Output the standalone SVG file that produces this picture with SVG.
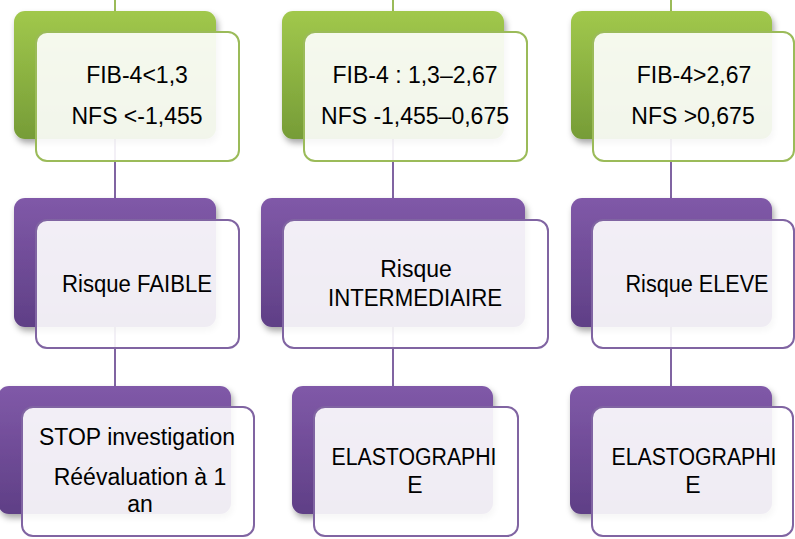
<svg xmlns="http://www.w3.org/2000/svg" width="795" height="539" viewBox="0 0 795 539">
<defs>
<linearGradient id="gG" x1="0" y1="0" x2="0" y2="1"><stop offset="0" stop-color="#A1C84C"/><stop offset="1" stop-color="#769C37"/></linearGradient>
<linearGradient id="gP" x1="0" y1="0" x2="0" y2="1"><stop offset="0" stop-color="#8059A8"/><stop offset="1" stop-color="#5F3F86"/></linearGradient>
<filter id="sh" x="-10%" y="-10%" width="125%" height="130%"><feDropShadow dx="2" dy="4" stdDeviation="3" flood-color="#000" flood-opacity="0.35"/></filter>
</defs>
<style>
.bg{fill:url(#gG);filter:url(#sh)}
.bp{fill:url(#gP);filter:url(#sh)}
.fg{fill:#fff;fill-opacity:0.9;stroke:#9BBB59;stroke-width:2}
.fp{fill:#fff;fill-opacity:0.9;stroke:#8064A2;stroke-width:2}
.cg{stroke:#9BBB59;stroke-width:2;fill:none}
.cp{stroke:#8064A2;stroke-width:2;fill:none}
text{font-family:"Liberation Sans",Arial,sans-serif;font-size:23px;fill:#000;text-anchor:middle}
</style>
<rect width="795" height="539" fill="#fff"/>
<g id="connectors">
<line class="cg" x1="115" y1="0" x2="115" y2="12"/>
<line class="cg" x1="393" y1="0" x2="393" y2="12"/>
<line class="cg" x1="671" y1="0" x2="671" y2="12"/>
<line class="cp" x1="115" y1="139" x2="115" y2="199"/>
<line class="cp" x1="393" y1="139" x2="393" y2="199"/>
<line class="cp" x1="671" y1="139" x2="671" y2="199"/>
<line class="cp" x1="115" y1="327" x2="115" y2="387"/>
<line class="cp" x1="393" y1="327" x2="393" y2="387"/>
<line class="cp" x1="671" y1="327" x2="671" y2="387"/>
</g>
<g id="n1">
<rect class="bg" x="14" y="11" width="202" height="128" rx="11"/>
<rect class="fg" x="36" y="32" width="203" height="129" rx="11"/>
<text x="137" y="83">FIB-4&lt;1,3</text>
<text x="137" y="124">NFS &lt;-1,455</text>
</g>
<g id="n2">
<rect class="bg" x="282" y="11" width="222" height="128" rx="11"/>
<rect class="fg" x="304" y="32" width="223" height="129" rx="11"/>
<text x="415" y="83">FIB-4 : 1,3–2,67</text>
<text x="415" y="124">NFS -1,455–0,675</text>
</g>
<g id="n3">
<rect class="bg" x="571" y="11" width="201" height="128" rx="11"/>
<rect class="fg" x="593" y="32" width="201" height="129" rx="11"/>
<text x="694" y="83">FIB-4&gt;2,67</text>
<text x="693" y="124">NFS &gt;0,675</text>
</g>
<g id="n4">
<rect class="bp" x="14" y="198" width="202" height="129" rx="11"/>
<rect class="fp" x="36" y="220" width="203" height="128" rx="11"/>
<text x="137" y="292" textLength="150" lengthAdjust="spacingAndGlyphs">Risque FAIBLE</text>
</g>
<g id="n5">
<rect class="bp" x="261" y="198" width="264" height="129" rx="11"/>
<rect class="fp" x="283" y="220" width="265" height="128" rx="11"/>
<text x="416" y="277">Risque</text>
<text x="415" y="306" textLength="174" lengthAdjust="spacingAndGlyphs">INTERMEDIAIRE</text>
</g>
<g id="n6">
<rect class="bp" x="571" y="198" width="201" height="129" rx="11"/>
<rect class="fp" x="592" y="220" width="202" height="128" rx="11"/>
<text x="697" y="292" textLength="143" lengthAdjust="spacingAndGlyphs">Risque ELEVE</text>
</g>
<g id="n7">
<rect class="bp" x="-2" y="386" width="233" height="128" rx="11"/>
<rect class="fp" x="22" y="407" width="232" height="129" rx="11"/>
<text x="137" y="445">STOP investigation</text>
<text x="140" y="485">Réévaluation à 1</text>
<text x="140" y="512">an</text>
</g>
<g id="n8">
<rect class="bp" x="292" y="386" width="201" height="128" rx="11"/>
<rect class="fp" x="314" y="407" width="204" height="129" rx="11"/>
<text x="414" y="465" textLength="165" lengthAdjust="spacingAndGlyphs">ELASTOGRAPHI</text>
<text x="415" y="493">E</text>
</g>
<g id="n9">
<rect class="bp" x="570" y="386" width="202" height="128" rx="11"/>
<rect class="fp" x="592" y="407" width="201" height="129" rx="11"/>
<text x="694" y="465" textLength="165" lengthAdjust="spacingAndGlyphs">ELASTOGRAPHI</text>
<text x="693" y="493">E</text>
</g>
</svg>
